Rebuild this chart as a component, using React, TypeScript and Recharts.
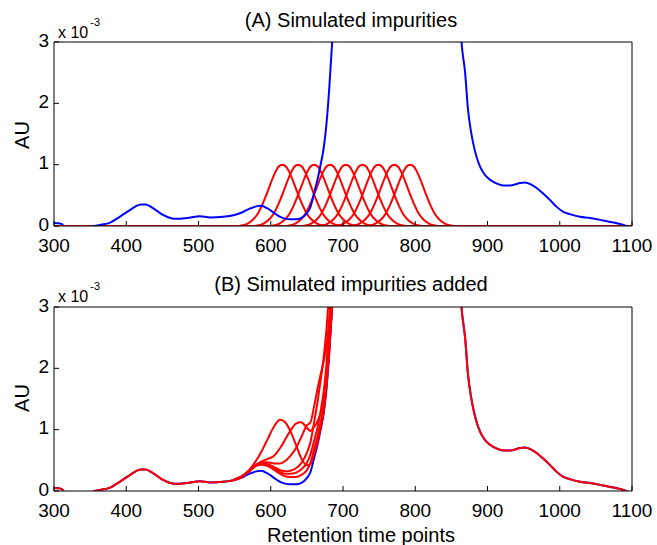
import React from 'react';
import { LineChart, Line, XAxis, YAxis } from 'recharts';

const FONT = '"Liberation Sans", Arial, Helvetica, sans-serif';
const BLUE = '#0000ff';
const RED = '#ff0000';

const xTicks = [300, 400, 500, 600, 700, 800, 900, 1000, 1100];
const yTicks = [0, 1, 2, 3];

// measured chromatogram (x = retention time point, y in 1e-3 AU); the main peak runs off scale
const baseX = [300, 306, 311, 315, 350, 356, 365, 377, 391, 405, 413, 420, 427, 437, 451, 465, 475, 484, 502, 516, 534, 550, 560, 570, 580, 587, 595, 605, 613, 620, 627, 635, 642, 650, 655, 660, 665, 669, 673, 677, 681, 685, 692, 700, 770, 850, 857, 864, 869, 873, 877, 880, 885, 890, 896, 904, 913, 922, 930, 936, 945, 952, 960, 968, 977, 986, 995, 1005, 1015, 1028, 1042, 1056, 1068, 1079, 1090, 1096, 1100];
const baseY = [0.05, 0.045, 0.03, -0.03, -0.03, 0.0, 0.02, 0.05, 0.15, 0.26, 0.32, 0.35, 0.35, 0.29, 0.18, 0.12, 0.12, 0.13, 0.16, 0.14, 0.15, 0.18, 0.22, 0.28, 0.32, 0.33, 0.29, 0.21, 0.15, 0.12, 0.11, 0.11, 0.13, 0.21, 0.31, 0.54, 0.77, 1.0, 1.25, 1.65, 2.25, 3.0, 4.5, 7, 15, 7, 4.6, 3.0, 2.5, 1.9, 1.55, 1.36, 1.12, 0.96, 0.84, 0.75, 0.69, 0.66, 0.66, 0.67, 0.7, 0.71, 0.68, 0.62, 0.53, 0.43, 0.32, 0.23, 0.19, 0.15, 0.13, 0.1, 0.07, 0.045, 0.01, -0.02, -0.03];

// simulated impurity peaks (A): one shape, placed at each retention point
const impurityCenters = [616, 638, 660, 682, 704, 727, 749, 771, 793];
const peakOffsets = [-64, -56, -48, -40, -34, -28, -22, -16, -10, -5, 0, 5, 10, 16, 22, 28, 34, 40, 48, 56, 64];
const peakShape = [0, 0.01, 0.04, 0.11, 0.2, 0.34, 0.51, 0.7, 0.87, 0.97, 1, 0.97, 0.87, 0.7, 0.51, 0.34, 0.2, 0.11, 0.04, 0.01, 0];

// chromatograms with impurities added (B), around the impurity window
const spikeX = [550, 560, 570, 580, 587, 595, 605, 613, 620, 627, 635, 642, 650, 655, 660, 665, 669, 673, 677, 681, 685, 692];
const spiked1 = [0.19, 0.24, 0.34, 0.5, 0.64, 0.83, 1.06, 1.16, 1.12, 0.98, 0.75, 0.54, 0.42, 0.44, 0.61, 0.81, 1.03, 1.27, 1.68, 2.3, 3.05, 4.6];
const spiked2 = [0.19, 0.24, 0.33, 0.43, 0.48, 0.52, 0.58, 0.7, 0.84, 0.98, 1.1, 1.12, 1.03, 0.98, 1.05, 1.14, 1.27, 1.44, 1.77, 2.33, 3.05, 4.5];
const spiked3 = [0.19, 0.24, 0.33, 0.43, 0.47, 0.47, 0.45, 0.45, 0.49, 0.57, 0.7, 0.87, 1.07, 1.12, 1.38, 1.68, 1.9, 2.1, 2.36, 2.8, 3.4, 4.9];
const spiked4 = [0.19, 0.24, 0.32, 0.42, 0.45, 0.44, 0.39, 0.34, 0.32, 0.33, 0.37, 0.45, 0.62, 0.8, 1.12, 1.47, 1.8, 2.15, 2.62, 3.25, 4.0, 5.4];
const spiked5 = [0.19, 0.24, 0.32, 0.42, 0.45, 0.43, 0.37, 0.31, 0.28, 0.28, 0.3, 0.35, 0.46, 0.6, 0.82, 1.05, 1.3, 1.6, 2.05, 2.75, 3.6, 5.4];
const spiked6 = [0.19, 0.24, 0.32, 0.41, 0.43, 0.41, 0.34, 0.28, 0.24, 0.23, 0.23, 0.26, 0.34, 0.46, 0.68, 0.9, 1.12, 1.35, 1.75, 2.35, 3.05, 4.6];

const pts = (xs: number[], ys: number[]) => xs.map((x, i) => ({ x, y: ys[i] }));

const baseData = pts(baseX, baseY);
const peakData = impurityCenters.map((c) => [
  { x: 300, y: 0 },
  ...peakOffsets.map((d, i) => ({ x: c + d, y: peakShape[i] })),
  { x: 1100, y: 0 },
]);
const spikedData = [spiked1, spiked2, spiked3, spiked4, spiked5, spiked6].map((ys) => pts(spikeX, ys));
const baseLeft = baseData.filter((p) => p.x <= 560);
const baseRight = baseData.filter((p) => p.x >= 685);

const tickStyle = { fill: '#000', fontSize: 19, fontFamily: FONT };
const noLabel = () => <g />;

const frame = (xLabelHeight: number) => [
  <XAxis
    key="xb"
    dataKey="x"
    type="number"
    domain={[300, 1100]}
    ticks={xTicks}
    interval={0}
    allowDataOverflow
    height={xLabelHeight}
    tickSize={-5}
    tickMargin={18}
    tick={tickStyle}
    axisLine={{ stroke: '#000' }}
    tickLine={{ stroke: '#000' }}
  />,
  <XAxis
    key="xt"
    xAxisId="top"
    orientation="top"
    dataKey="x"
    type="number"
    domain={[300, 1100]}
    ticks={xTicks}
    interval={0}
    height={1}
    tickSize={-5}
    tick={noLabel}
    axisLine={{ stroke: '#000' }}
    tickLine={{ stroke: '#000' }}
  />,
  <YAxis
    key="yl"
    type="number"
    domain={[0, 3]}
    ticks={yTicks}
    interval={0}
    allowDataOverflow
    width={54}
    tickSize={-5}
    tickMargin={10}
    tick={{ ...tickStyle, dy: -2 }}
    axisLine={{ stroke: '#000' }}
    tickLine={{ stroke: '#000' }}
  />,
  <YAxis
    key="yr"
    yAxisId="right"
    orientation="right"
    type="number"
    domain={[0, 3]}
    ticks={yTicks}
    interval={0}
    width={1}
    tickSize={-5}
    tick={noLabel}
    axisLine={{ stroke: '#000' }}
    tickLine={{ stroke: '#000' }}
  />,
];

const lineProps = {
  dataKey: 'y',
  type: 'monotone' as const,
  strokeWidth: 2,
  dot: false,
  activeDot: false,
  isAnimationActive: false,
};

const Scale = ({ top }: { top: number }) => (
  <div style={{ position: 'absolute', left: 58, top, fontSize: 16, lineHeight: '16px', fontFamily: FONT, whiteSpace: 'nowrap' }}>
    x 10<span style={{ position: 'relative', top: -12, fontSize: 11, marginLeft: 2 }}>-3</span>
  </div>
);

const Centered = ({ x, y, text, size = 20, rotate = false }: { x: number; y: number; text: string; size?: number; rotate?: boolean }) => (
  <div
    style={{
      position: 'absolute',
      left: x,
      top: y,
      fontSize: size,
      lineHeight: 1,
      fontFamily: FONT,
      whiteSpace: 'nowrap',
      transform: `translate(-50%, -50%)${rotate ? ' rotate(-90deg)' : ''}`,
    }}
  >
    {text}
  </div>
);

export default function App() {
  return (
    <div style={{ position: 'absolute', left: 0, top: 0, width: 657, height: 545, background: '#fff' }}>
      <div style={{ position: 'absolute', left: 0, top: 0 }}>
        <LineChart width={657} height={262} margin={{ top: 41, right: 24, bottom: 0, left: 0 }}>
          {frame(36)}
          {peakData.map((d, i) => (
            <Line key={`p${i}`} {...lineProps} data={d} stroke={RED} />
          ))}
          <Line {...lineProps} data={baseData} stroke={BLUE} />
        </LineChart>
      </div>
      <div style={{ position: 'absolute', left: 0, top: 262 }}>
        <LineChart width={657} height={283} margin={{ top: 44, right: 24, bottom: 0, left: 0 }}>
          {frame(54)}
          <Line {...lineProps} data={baseData} stroke={BLUE} />
          <Line {...lineProps} data={baseLeft} stroke={RED} />
          <Line {...lineProps} data={baseRight} stroke={RED} />
          {spikedData.map((d, i) => (
            <Line key={`s${i}`} {...lineProps} data={d} stroke={RED} />
          ))}
        </LineChart>
      </div>
      <Centered x={351} y={20} text="(A) Simulated impurities" />
      <Centered x={351} y={284} text="(B) Simulated impurities added" />
      <Centered x={361} y={535} text="Retention time points" />
      <Centered x={22} y={135} text="AU" rotate />
      <Centered x={22} y={398} text="AU" rotate />
      <Scale top={25} />
      <Scale top={289} />
    </div>
  );
}
